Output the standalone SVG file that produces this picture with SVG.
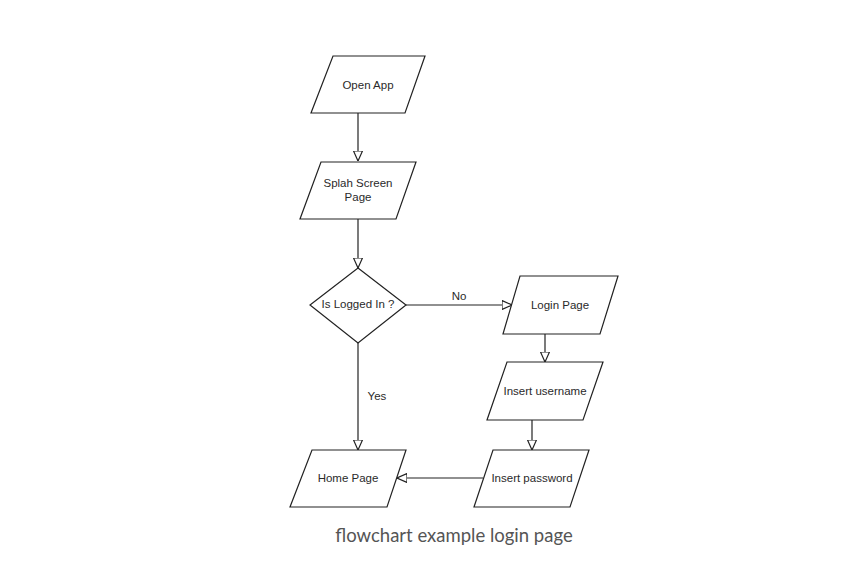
<svg xmlns="http://www.w3.org/2000/svg" width="856" height="572" viewBox="0 0 856 572">
<style>
.s{fill:#fff;stroke:#222;stroke-width:1.2}
.t{font-family:"Liberation Sans",Arial,sans-serif;font-size:11.5px;fill:#2a2a2a;text-anchor:middle}
.c{fill:none;stroke:#222;stroke-width:1.2}
.cap{font-family:Lato,"Open Sans",sans-serif;font-size:18.5px;fill:#555;text-anchor:middle}
</style>
<defs>
<marker id="a" viewBox="0 0 10 10" refX="10" refY="5" markerWidth="10" markerHeight="10" markerUnits="userSpaceOnUse" orient="auto">
<path d="M0,0.5 L10,5 L0,9.5 Z" fill="#fff" stroke="#222" stroke-width="1.2"/>
</marker>
</defs>
<rect width="856" height="572" fill="#fff"/>
<g id="connectors">
<path class="c" d="M358,113 V161" marker-end="url(#a)"/>
<path class="c" d="M358,219 V268" marker-end="url(#a)"/>
<path class="c" d="M406,305 H512" marker-end="url(#a)"/>
<path class="c" d="M545,334 V362" marker-end="url(#a)"/>
<path class="c" d="M532,420 V450" marker-end="url(#a)"/>
<path class="c" d="M483,478 H397" marker-end="url(#a)"/>
<path class="c" d="M358,343 V450" marker-end="url(#a)"/>
<text class="t" x="459" y="300">No</text>
<text class="t" x="377" y="400">Yes</text>
</g>
<g id="open-app">
<polygon class="s" points="333,56 425,56 405,113 311,113"/>
<text class="t" x="368" y="89">Open App</text>
</g>
<g id="splash">
<polygon class="s" points="321,162 416,162 396,219 300,219"/>
<text class="t" x="358" y="187">Splah Screen</text>
<text class="t" x="358" y="201">Page</text>
</g>
<g id="logged-in">
<polygon class="s" points="358,268 406,305 358,343 310,305"/>
<text class="t" x="358" y="308">Is Logged In ?</text>
</g>
<g id="login-page">
<polygon class="s" points="520,276 618,276 600,334 503,334"/>
<text class="t" x="560" y="309">Login Page</text>
</g>
<g id="insert-username">
<polygon class="s" points="507,362 603,362 583,420 487,420"/>
<text class="t" x="545" y="395">Insert username</text>
</g>
<g id="insert-password">
<polygon class="s" points="493,450 589,450 570,507 474,507"/>
<text class="t" x="532" y="482">Insert password</text>
</g>
<g id="home-page">
<polygon class="s" points="312,450 406,450 387,507 290,507"/>
<text class="t" x="348" y="482">Home Page</text>
</g>
<text class="cap" x="454" y="542">flowchart example login page</text>
</svg>
